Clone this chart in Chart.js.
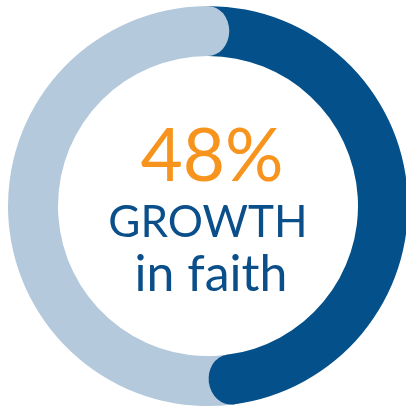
<!DOCTYPE html>
<html>
<head>
<meta charset="utf-8">
<script src="https://cdn.jsdelivr.net/npm/chart.js@4.4.1/dist/chart.umd.min.js"></script>
<style>
    html, body {
        margin: 0;
        padding: 0;
        width: 406px;
        height: 410px;
        overflow: hidden;
        background: #ffffff;
    }
    .wrap {
        position: relative;
        width: 410px;
        height: 410px;
    }
    .label {
        position: absolute;
        left: 0;
        width: 416px;
        text-align: center;
        font-family: Lato, "Open Sans", sans-serif;
        line-height: 1;
        white-space: nowrap;
    }
    .pct {
        top: 117px;
        font-size: 73px;
        color: #f7941d;
        left: 4px;
    }
    .growth {
        top: 198px;
        font-size: 44px;
        color: #0b4f8a;
    }
    .faith {
        top: 247px;
        font-size: 50px;
        color: #0b4f8a;
        left: 3px;
    }
</style>
</head>
<body>
<div class="wrap">
    <canvas id="growthChart" width="410" height="410"></canvas>
    <div class="label pct">48%</div>
    <div class="label growth">GROWTH</div>
    <div class="label faith">in faith</div>
</div>
<script>
// ================= Data =================
const labels = ["Growth in faith", "Remaining"];
const values = [48, 52];

// rounded cap at the end of every slice, drawn over the next slice
const roundCaps = {
    id: "roundCaps",
    afterDatasetsDraw(chart) {
        const ctx = chart.ctx;
        chart.getDatasetMeta(0).data.forEach(arc => {
            const r = (arc.outerRadius - arc.innerRadius) / 2;
            const mid = arc.innerRadius + r;
            ctx.save();
            ctx.beginPath();
            ctx.ellipse(arc.x + Math.cos(arc.endAngle) * mid, arc.y + Math.sin(arc.endAngle) * mid,
                r, r * 0.85, arc.endAngle, 0, Math.PI * 2);
            ctx.fillStyle = arc.options.backgroundColor;
            ctx.fill();
            ctx.restore();
        });
    }
};

// ================= Doughnut =================
const growthChart = new Chart(document.getElementById("growthChart"), {
    type: "doughnut",
    data: {
        labels: labels,
        datasets: [{
            data: values,
            backgroundColor: [
                "#03508a", // dark blue
                "#b4c9dc"  // light blue
            ],
            borderWidth: 0
        }]
    },
    options: {
        responsive: false,
        animation: false,
        cutout: "75%",
        layout: {
            padding: { left: 8, right: 2, top: 6, bottom: 4 }
        },
        plugins: {
            legend: { display: false },
            tooltip: { enabled: false }
        }
    },
    plugins: [roundCaps]
});
</script>
</body>
</html>
